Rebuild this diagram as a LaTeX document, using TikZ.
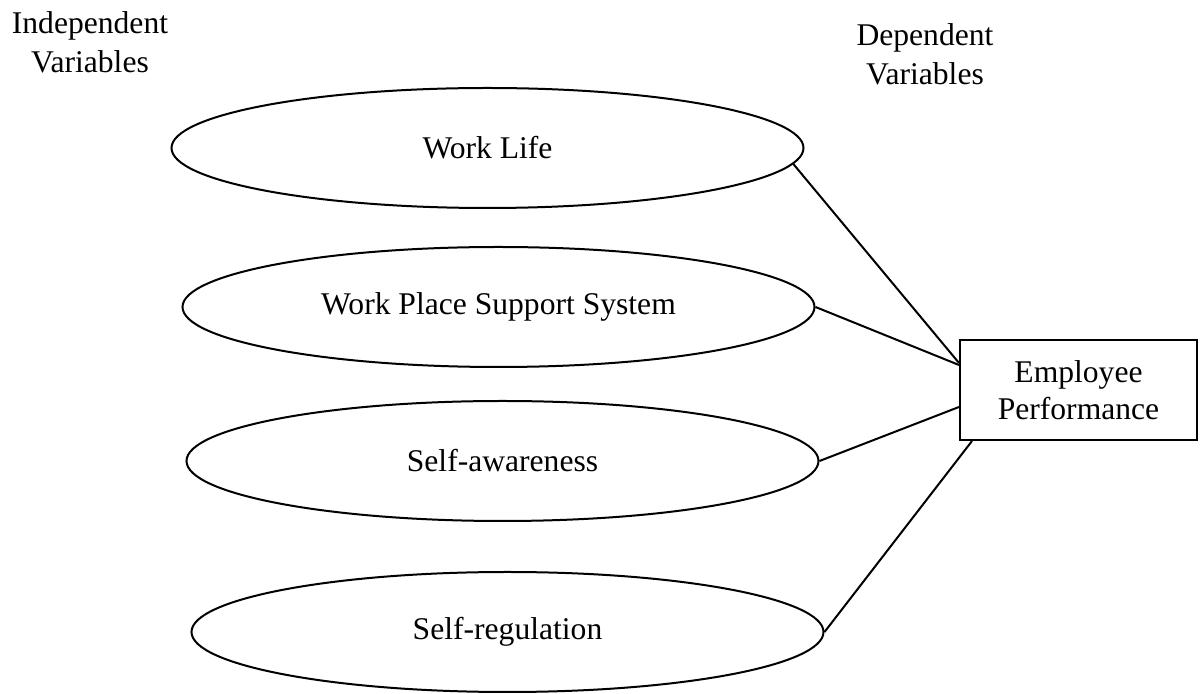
\documentclass[tikz,border=0pt]{standalone}
\usepackage{fontspec}
\setmainfont{Liberation Serif}
\usetikzlibrary{shapes.geometric,calc}
\begin{document}
\begin{tikzpicture}[x=0.5pt,y=-0.5pt,
  every node/.style={font=\fontsize{15.8}{18.5}\selectfont},
  factor/.style={draw, ellipse, line width=1pt, minimum width=316pt, minimum height=60pt, inner sep=0pt},
  outcome/.style={draw, rectangle, line width=1pt, minimum width=118.5pt, minimum height=50pt, inner sep=0pt, align=center},
  heading/.style={align=center, inner sep=0pt, anchor=north, font=\fontsize{15.8}{19.5}\selectfont},
  link/.style={line width=1pt}]
\useasboundingbox (0,0) rectangle (1201,694);
% column headings
\node[heading] (indep) at (90,11) {Independent\\Variables};
\node[heading] (dep) at (925,23) {Dependent\\Variables};
% independent variables
\node[factor] (wl) at (487.5,148) {Work Life};
\node[factor] (wp) at (498.5,307) {Work Place Support System};
\node[factor] (sa) at (502.5,461) {Self-awareness};
\node[factor] (sr) at (507.5,632) {Self-regulation};
% dependent variable
\node[outcome] (ep) at (1078.5,390) {Employee\\Performance};
% links
\draw[link] (wl.-3.3) -- ($(ep.west)+(0,-27)$);
\draw[link] (wp.east) -- ($(ep.west)+(0,-25)$);
\draw[link] (sa.east) -- ($(ep.west)+(0,17)$);
\draw[link] (sr.east) -- ($(ep.south west)+(13,0)$);
\end{tikzpicture}
\end{document}
